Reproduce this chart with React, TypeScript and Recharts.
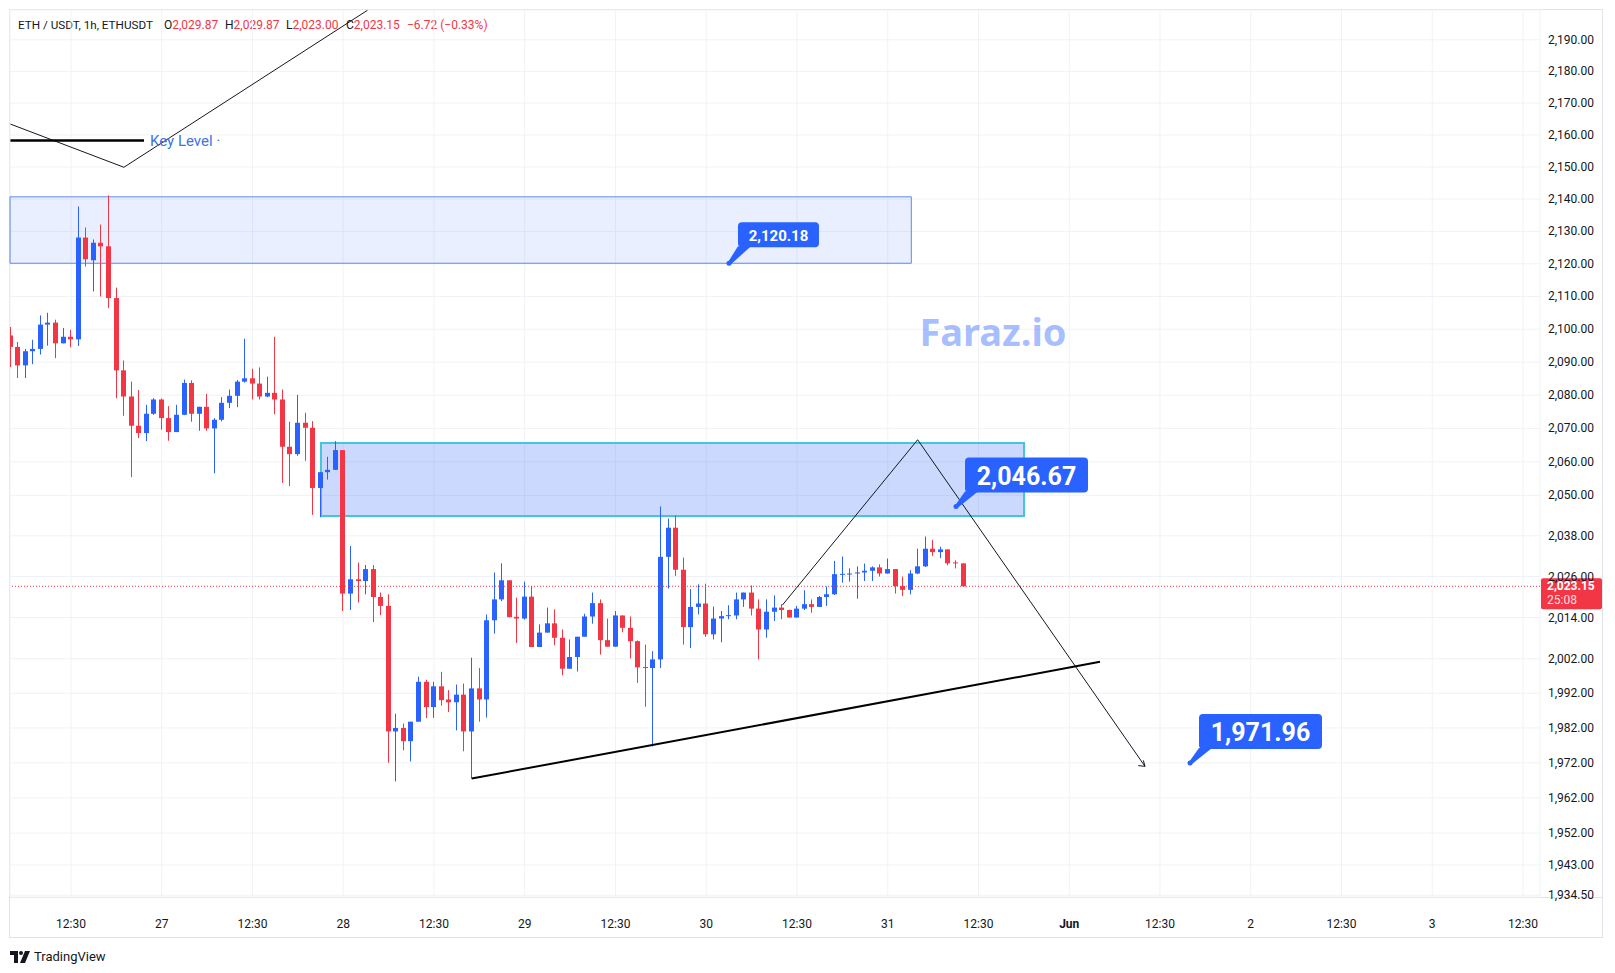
import {
  ComposedChart,
  Bar,
  XAxis,
  YAxis,
  CartesianGrid,
  ReferenceLine,
  ReferenceArea,
  ReferenceDot,
} from "recharts";

const UP = "#2962ff";
const DOWN = "#f23645";
const TEXT = "#131722";
const GRID = "#f0f2f5";
const FONT = "Roboto, sans-serif";

// hourly candles, first one at 26 May 04:30 (t = hours since 26 May 00:00)
const START_HOUR = 4.5;

const OPEN = [
  2098.1, 2094.6, 2089.0, 2093.3, 2094.0, 2101.4, 2102.0, 2095.7, 2097.7, 2096.9,
  2128.1, 2121.1, 2126.5, 2125.4, 2109.5, 2087.5, 2079.6, 2070.8, 2068.6, 2074.4,
  2078.7, 2073.1, 2068.9, 2074.1, 2083.7, 2074.4, 2076.5, 2070.0, 2072.6, 2077.7,
  2079.8, 2084.1, 2085.1, 2083.5, 2079.6, 2080.7, 2078.7, 2064.5, 2062.3, 2071.7,
  2070.2, 2052.2, 2056.9, 2057.6, 2063.5, 2021.0, 2025.2, 2024.7, 2028.2, 2020.0,
  2017.4, 1981.0, 1982.0, 1978.2, 1983.8, 1995.3, 1988.0, 1994.0, 1990.2, 1989.4,
  1991.6, 1981.0, 1993.4, 1990.2, 2013.2, 2019.3, 2024.9, 2014.2, 2013.7, 2020.1,
  2005.4, 2009.6, 2012.3, 2008.1, 1999.1, 2002.5, 2008.4, 2014.3, 2018.2, 2007.4,
  2005.5, 2014.6, 2011.0, 2007.1, 1999.5, 1999.3, 2001.8, 2031.8, 2040.4, 2028.0,
  2011.2, 2017.1, 2018.1, 2009.1, 2013.7, 2014.4, 2014.6, 2019.3, 2021.3, 2016.6,
  2010.5, 2015.7, 2016.9, 2016.2, 2014.0, 2016.6, 2017.9, 2017.1, 2020.0, 2020.8,
  2026.5, 2026.6, 2026.9, 2027.2, 2027.7, 2028.7, 2026.9, 2028.2, 2023.2, 2022.1,
  2026.9, 2029.0, 2034.2, 2033.2, 2034.0, 2029.9, 2029.87,
];
const HIGH = [
  2100.7, 2096.1, 2094.0, 2096.8, 2104.2, 2105.0, 2102.9, 2100.4, 2099.8, 2137.7,
  2131.2, 2127.5, 2132.1, 2141.2, 2112.7, 2090.5, 2084.1, 2081.6, 2077.1, 2079.1,
  2079.0, 2076.7, 2077.1, 2084.7, 2084.5, 2076.5, 2080.4, 2073.1, 2079.4, 2081.7,
  2084.6, 2097.1, 2088.0, 2088.4, 2085.6, 2097.7, 2081.7, 2072.0, 2080.1, 2074.7,
  2072.2, 2056.9, 2061.5, 2066.2, 2063.5, 2035.0, 2030.1, 2029.4, 2029.4, 2021.3,
  2020.8, 1986.1, 1983.3, 1983.8, 1996.8, 1995.9, 1995.3, 1998.2, 1992.9, 1994.5,
  1994.8, 2002.3, 1999.3, 2014.9, 2027.2, 2029.9, 2024.9, 2019.8, 2024.5, 2023.2,
  2012.0, 2016.9, 2016.4, 2010.5, 2007.6, 2008.4, 2015.1, 2021.3, 2019.3, 2013.7,
  2015.9, 2014.6, 2014.3, 2007.3, 2006.1, 2004.2, 2046.7, 2043.1, 2044.1, 2031.6,
  2022.3, 2023.7, 2023.9, 2017.2, 2015.9, 2017.6, 2021.3, 2021.3, 2023.4, 2019.3,
  2019.3, 2020.5, 2017.9, 2016.3, 2017.4, 2022.0, 2019.3, 2020.3, 2023.1, 2030.6,
  2031.9, 2028.4, 2029.0, 2029.8, 2029.0, 2029.6, 2031.3, 2028.2, 2026.0, 2027.9,
  2034.2, 2037.8, 2036.8, 2034.8, 2034.0, 2030.8, 2029.87,
];
const LOW = [
  2088.5, 2085.2, 2085.2, 2089.4, 2092.3, 2095.0, 2091.2, 2095.7, 2094.5, 2094.9,
  2119.2, 2111.5, 2110.0, 2106.5, 2079.1, 2073.8, 2055.4, 2067.1, 2066.2, 2074.1,
  2069.6, 2066.3, 2068.9, 2074.0, 2072.0, 2069.3, 2069.3, 2056.6, 2072.1, 2076.1,
  2076.4, 2083.8, 2078.7, 2078.7, 2079.4, 2074.3, 2053.7, 2052.8, 2061.8, 2060.3,
  2044.2, 2043.5, 2054.7, 2057.6, 2015.9, 2016.2, 2018.4, 2020.8, 2012.7, 2014.7,
  1972.0, 1966.7, 1975.6, 1972.4, 1983.8, 1984.9, 1984.9, 1988.4, 1986.6, 1981.3,
  1975.3, 1967.5, 1983.8, 1985.0, 2009.3, 2018.8, 2014.1, 2006.6, 2013.4, 2005.4,
  2005.4, 2009.6, 2005.9, 1997.2, 1999.1, 1998.3, 2008.4, 2012.2, 2003.2, 2005.5,
  2005.5, 2009.7, 2002.1, 1995.0, 1988.1, 1976.7, 1999.3, 2022.5, 2026.2, 2006.1,
  2005.1, 2014.9, 2008.4, 2007.6, 2006.8, 2013.5, 2013.5, 2017.1, 2014.6, 2001.8,
  2008.1, 2013.0, 2013.5, 2014.0, 2014.0, 2016.2, 2015.4, 2017.1, 2017.4, 2020.6,
  2024.2, 2024.5, 2019.5, 2024.7, 2024.7, 2026.0, 2026.9, 2021.0, 2020.3, 2020.8,
  2026.7, 2028.8, 2032.1, 2031.4, 2029.3, 2028.4, 2023.0,
];
const CLOSE = [
  2094.6, 2089.0, 2093.3, 2094.0, 2101.4, 2102.0, 2095.7, 2097.7, 2096.9, 2128.1,
  2121.4, 2126.5, 2125.4, 2109.5, 2087.5, 2079.6, 2070.8, 2068.6, 2074.4, 2078.7,
  2073.1, 2068.9, 2074.1, 2083.7, 2074.4, 2076.5, 2070.0, 2072.6, 2077.7, 2079.8,
  2084.1, 2085.1, 2083.5, 2079.6, 2080.7, 2078.7, 2064.5, 2062.3, 2071.7, 2070.2,
  2052.2, 2056.9, 2057.6, 2063.5, 2021.0, 2025.2, 2024.7, 2028.2, 2020.0, 2017.4,
  1981.0, 1982.0, 1978.2, 1983.8, 1995.3, 1988.0, 1994.0, 1990.0, 1989.4, 1991.6,
  1981.0, 1993.4, 1990.2, 2013.2, 2019.3, 2024.9, 2014.1, 2013.7, 2020.1, 2005.4,
  2009.6, 2012.3, 2008.1, 1999.1, 2002.5, 2008.4, 2014.3, 2018.2, 2007.4, 2005.5,
  2014.6, 2011.0, 2007.1, 1999.5, 1999.3, 2001.8, 2031.8, 2040.4, 2028.0, 2011.2,
  2017.1, 2018.1, 2009.1, 2013.7, 2014.4, 2014.6, 2019.3, 2021.3, 2016.6, 2010.5,
  2015.7, 2016.9, 2016.2, 2014.0, 2016.6, 2017.9, 2017.1, 2020.0, 2020.8, 2026.7,
  2026.7, 2026.9, 2027.2, 2027.7, 2028.7, 2026.9, 2028.2, 2023.2, 2022.1, 2026.9,
  2029.0, 2034.2, 2033.2, 2034.0, 2029.9, 2029.87, 2023.15,
];

const T_DOMAIN = [4.44, 206.75];
const P_DOMAIN = [1934.0, 2199.5];

const PRICE_TICKS = [
  2190, 2180, 2170, 2160, 2150, 2140, 2130, 2120, 2110, 2100, 2090, 2080, 2070,
  2060, 2050, 2038, 2026, 2014, 2002, 1992, 1982, 1972, 1962, 1952, 1943, 1934.5,
];
const TIME_TICKS = [
  12.5, 24.5, 36.5, 48.5, 60.5, 72.5, 84.5, 96.5, 108.5, 120.5, 132.5, 144.5,
  156.5, 168.5, 180.5, 192.5, 204.5,
];
const TIME_LABELS = [
  "12:30", "27", "12:30", "28", "12:30", "29", "12:30", "30", "12:30", "31",
  "12:30", "Jun", "12:30", "2", "12:30", "3", "12:30",
];

const LAST_PRICE = 2023.15;

// drawings (time, price)
const ZIGZAG_T = [4.5, 19.5, 51.7];
const ZIGZAG_P = [2163.4, 2149.9, 2199.4];
const KEY_LEVEL = 2158.3;
const KEY_LEVEL_T = [4.5, 22.16];
const UPPER_ZONE_T = [4.44, 123.62];
const UPPER_ZONE_P = [2120.18, 2140.7];
const MID_ZONE_T = [45.56, 138.52];
const MID_ZONE_P = [2043.9, 2065.6];
const PATH_T = [106.56, 124.46, 154.52];
const PATH_P = [2017.6, 2066.6, 1971.0];
const HEAD_T = [153.63, 154.52, 154.3];
const HEAD_P = [1971.2, 1971.0, 1972.7];
const TREND_T = [65.49, 148.57];
const TREND_P = [1967.5, 2001.1];
const CALLOUT_T = [99.51, 129.53, 160.47];
const CALLOUT_P = [2120.18, 2046.67, 1971.96];
const CALLOUT_BIG = [false, true, true];
const WATERMARK = { t: 134.42, p: 2099.5, text: "Faraz.io" };

const candles = OPEN.map((o, i) => ({
  t: START_HOUR + i,
  wick: [LOW[i], HIGH[i]],
  body: [Math.min(o, CLOSE[i]), Math.max(o, CLOSE[i])],
  up: CLOSE[i] >= o,
}));

const fmt = (v: number) =>
  v.toLocaleString("en-US", { minimumFractionDigits: 2, maximumFractionDigits: 2 });

const WickShape = (p: any) => {
  const cx = Math.floor(p.x + p.width / 2);
  return (
    <rect x={cx} y={p.y} width={1} height={Math.max(p.height, 1)} fill={p.payload.up ? UP : DOWN} />
  );
};

const BodyShape = (p: any) => {
  const cx = Math.floor(p.x + p.width / 2);
  return (
    <rect x={cx - 2} y={p.y} width={5} height={Math.max(p.height, 1)} fill={p.payload.up ? UP : DOWN} />
  );
};

const PriceTick = (p: any) => (
  <text x={p.x} y={p.y} fill={TEXT} fontSize={12} fontFamily={FONT} textAnchor="start" dominantBaseline="central">
    {fmt(p.payload.value)}
  </text>
);

const TimeTick = (p: any) => {
  const i = TIME_TICKS.indexOf(p.payload.value);
  const label = TIME_LABELS[i] ?? "";
  return (
    <text
      x={p.x}
      y={p.y + 27}
      fill={TEXT}
      fontSize={12}
      fontFamily={FONT}
      fontWeight={label === "Jun" ? 700 : 400}
      textAnchor="middle"
      dominantBaseline="central"
    >
      {label}
    </text>
  );
};

const PriceTag = (props: any) => {
  const { x, y, width } = props.viewBox;
  const left = x + width + 1;
  return (
    <g>
      <rect x={left} y={y - 8} width={61} height={31} rx={2} fill={DOWN} />
      <text x={left + 6} y={y} fill="#fff" fontSize={12} fontWeight={700} fontFamily={FONT} dominantBaseline="central">
        {fmt(LAST_PRICE)}
      </text>
      <text x={left + 6} y={y + 14} fill="#fff" fillOpacity={0.85} fontSize={12} fontFamily={FONT} dominantBaseline="central">
        25:08
      </text>
    </g>
  );
};

const Callout = ({ cx, cy, text, big }: any) => {
  const w = big ? 123 : 81;
  const h = big ? 35 : 25;
  const bx = cx + 9;
  const by = cy - (big ? 49 : 41);
  return (
    <g>
      <polygon
        points={`${cx - 1},${cy - 1} ${bx},${by + h - 1} ${bx + 13},${by + h - 1} ${cx + 2},${cy + 1}`}
        fill={UP}
      />
      <circle cx={cx} cy={cy} r={2.5} fill={UP} />
      <rect x={bx} y={by} width={w} height={h} rx={4} fill={UP} />
      <text
        x={bx + w / 2}
        y={by + h / 2 + 1}
        fill="#fff"
        fontSize={big ? 25 : 15}
        fontWeight={700}
        fontFamily={FONT}
        textAnchor="middle"
        dominantBaseline="central"
      >
        {text}
      </text>
    </g>
  );
};

const seg = (ts: number[], ps: number[], a: number, b: number) => [
  { x: ts[a], y: ps[a] },
  { x: ts[b], y: ps[b] },
];

const TvLogo = () => (
  <svg width={20} height={12} viewBox="0 0 20 12">
    <path d="M0 0h8v12H4V4H0z" fill={TEXT} />
    <circle cx={11} cy={2} r={2} fill={TEXT} />
    <path d="M15 0h5l-5 12h-5z" fill={TEXT} />
  </svg>
);

export default function App() {
  const axisProps = { xAxisId: "body", yAxisId: "p" } as const;
  return (
    <div
      style={{
        position: "fixed",
        left: 0,
        top: 0,
        width: 1615,
        height: 973,
        background: "#fff",
        overflow: "hidden",
        fontFamily: FONT,
      }}
    >
      <div
        style={{
          position: "absolute",
          left: 9,
          top: 9,
          width: 1592,
          height: 927,
          border: "1px solid #e0e3eb",
        }}
      />
      <div style={{ position: "absolute", left: 10, top: 897, width: 1592, height: 1, background: "#e0e3eb" }} />

      <div style={{ position: "absolute", left: 0, top: 17, fontSize: 12, lineHeight: "16px", color: TEXT, whiteSpace: "nowrap" }}>
        <span style={{ position: "absolute", left: 18, fontSize: 11.7 }}>ETH / USDT, 1h, ETHUSDT</span>
        <span style={{ position: "absolute", left: 164 }}>
          O<span style={{ color: DOWN }}>2,029.87</span>
        </span>
        <span style={{ position: "absolute", left: 225 }}>
          H<span style={{ color: DOWN }}>2,029.87</span>
        </span>
        <span style={{ position: "absolute", left: 286 }}>
          L<span style={{ color: DOWN }}>2,023.00</span>
        </span>
        <span style={{ position: "absolute", left: 346 }}>
          C<span style={{ color: DOWN }}>2,023.15</span>
        </span>
        <span style={{ position: "absolute", left: 407, color: DOWN }}>−6.72 (−0.33%)</span>
      </div>

      <div style={{ position: "absolute", left: 0, top: 0 }}>
        <ComposedChart
          width={1615}
          height={973}
          data={candles}
          margin={{ top: 10, right: 14, bottom: 36, left: 10 }}
        >
          <CartesianGrid {...axisProps} stroke={GRID} strokeWidth={1} />
          <XAxis
            xAxisId="body"
            dataKey="t"
            type="number"
            domain={T_DOMAIN}
            allowDataOverflow
            ticks={TIME_TICKS}
            interval={0}
            height={40}
            axisLine={false}
            tickLine={false}
            tickSize={0}
            tickMargin={0}
            tick={<TimeTick />}
          />
          <XAxis xAxisId="wick" dataKey="t" type="number" domain={T_DOMAIN} allowDataOverflow hide />
          <YAxis
            yAxisId="p"
            orientation="right"
            scale="log"
            domain={P_DOMAIN}
            allowDataOverflow
            ticks={PRICE_TICKS}
            interval={0}
            width={61}
            axisLine={false}
            tickLine={false}
            tickSize={0}
            tickMargin={8}
            tick={<PriceTick />}
          />

          <ReferenceArea
            {...axisProps}
            x1={UPPER_ZONE_T[0]}
            x2={UPPER_ZONE_T[1]}
            y1={UPPER_ZONE_P[0]}
            y2={UPPER_ZONE_P[1]}
            fill="#2962ff"
            fillOpacity={0.1}
            stroke="#5f8be8"
            strokeWidth={1}
          />
          <ReferenceArea
            {...axisProps}
            x1={MID_ZONE_T[0]}
            x2={MID_ZONE_T[1]}
            y1={MID_ZONE_P[0]}
            y2={MID_ZONE_P[1]}
            fill="#2962ff"
            fillOpacity={0.24}
            stroke="#45c6d6"
            strokeWidth={2}
          />

          <ReferenceLine {...axisProps} y={LAST_PRICE} stroke={DOWN} strokeDasharray="1 2" label={<PriceTag />} />

          <Bar xAxisId="wick" yAxisId="p" dataKey="wick" barSize={1} shape={<WickShape />} isAnimationActive={false} />
          <Bar xAxisId="body" yAxisId="p" dataKey="body" barSize={5} minPointSize={1} shape={<BodyShape />} isAnimationActive={false} />

          <ReferenceLine {...axisProps} segment={seg(ZIGZAG_T, ZIGZAG_P, 0, 1)} stroke={TEXT} strokeWidth={1} />
          <ReferenceLine {...axisProps} segment={seg(ZIGZAG_T, ZIGZAG_P, 1, 2)} stroke={TEXT} strokeWidth={1} />
          <ReferenceLine
            {...axisProps}
            segment={[
              { x: KEY_LEVEL_T[0], y: KEY_LEVEL },
              { x: KEY_LEVEL_T[1], y: KEY_LEVEL },
            ]}
            stroke="#000"
            strokeWidth={2.5}
          />
          <ReferenceDot
            {...axisProps}
            x={KEY_LEVEL_T[1]}
            y={KEY_LEVEL}
            r={1}
            shape={(p: any) => (
              <text x={p.cx + 6} y={p.cy + 1} fill="#3d73e6" fontSize={15} fontFamily={FONT} dominantBaseline="central">
                Key Level ·
              </text>
            )}
          />

          <ReferenceLine {...axisProps} segment={seg(PATH_T, PATH_P, 0, 1)} stroke={TEXT} strokeWidth={1} />
          <ReferenceLine {...axisProps} segment={seg(PATH_T, PATH_P, 1, 2)} stroke={TEXT} strokeWidth={1} />
          <ReferenceLine {...axisProps} segment={seg(HEAD_T, HEAD_P, 0, 1)} stroke={TEXT} strokeWidth={1} />
          <ReferenceLine {...axisProps} segment={seg(HEAD_T, HEAD_P, 1, 2)} stroke={TEXT} strokeWidth={1} />
          <ReferenceLine {...axisProps} segment={seg(TREND_T, TREND_P, 0, 1)} stroke="#000" strokeWidth={2} />

          <ReferenceDot
            {...axisProps}
            x={WATERMARK.t}
            y={WATERMARK.p}
            r={1}
            shape={(p: any) => (
              <text
                x={p.cx}
                y={p.cy}
                fill="#2962ff"
                fillOpacity={0.42}
                fontSize={38}
                fontWeight={700}
                fontFamily="'Noto Sans', sans-serif"
                textAnchor="middle"
                dominantBaseline="central"
              >
                {WATERMARK.text}
              </text>
            )}
          />

          {CALLOUT_T.map((t, i) => (
            <ReferenceDot
              key={i}
              {...axisProps}
              x={t}
              y={CALLOUT_P[i]}
              r={3}
              shape={(p: any) => <Callout cx={p.cx} cy={p.cy} text={fmt(CALLOUT_P[i])} big={CALLOUT_BIG[i]} />}
            />
          ))}
        </ComposedChart>
      </div>

      <div style={{ position: "absolute", left: 10, top: 949, display: "flex", alignItems: "center", gap: 4 }}>
        <TvLogo />
        <span style={{ fontSize: 13, color: TEXT }}>TradingView</span>
      </div>
    </div>
  );
}
